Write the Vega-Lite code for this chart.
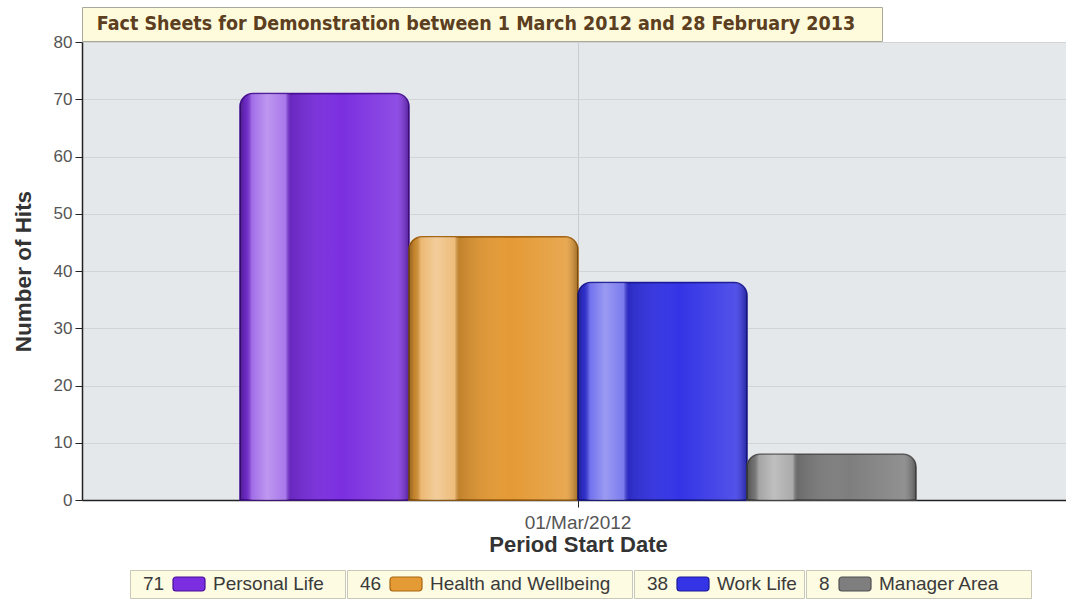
{
  "$schema": "https://vega.github.io/schema/vega-lite/v6.json",
  "padding": {"left": 12, "top": 6, "right": 0, "bottom": 0},
  "background": "white",
  "spacing": -13,
  "datasets": {
    "hits": [
      {"period": "01/Mar/2012", "series": "Personal Life", "hits": 71},
      {"period": "01/Mar/2012", "series": "Health and Wellbeing", "hits": 46},
      {"period": "01/Mar/2012", "series": "Work Life", "hits": 38},
      {"period": "01/Mar/2012", "series": "Manager Area", "hits": 8}
    ],
    "heading": [
      {"title": "Fact Sheets for Demonstration between 1 March 2012 and 28 February 2013"}
    ]
  },
  "config": {
    "font": "Liberation Sans",
    "view": {"stroke": null},
    "axis": {"labelFont": "Liberation Sans", "titleFont": "Liberation Sans"}
  },
  "vconcat": [
    {
      "width": 800,
      "height": 34,
      "data": {"name": "heading"},
      "view": {"fill": "#fdfbdc", "stroke": "#a9a89c"},
      "mark": {"type": "text", "font": "DejaVu Sans Condensed", "fontWeight": "bold", "fontSize": 19.5, "color": "#5c3e20", "dx": -6},
      "encoding": {"text": {"field": "title", "type": "nominal"}}
    },
    {
      "width": 992,
      "height": 458,
      "data": {"name": "hits"},
      "view": {"fill": "#e5e8eb", "stroke": null},
      "encoding": {
        "x": {
          "field": "period",
          "type": "nominal",
          "scale": {"paddingOuter": 0.2337, "paddingInner": 0},
          "axis": {
            "title": ["Period Start Date", ""],
            "titleFontSize": 22,
            "titleFontWeight": "bold",
            "titleColor": "#333333",
            "titlePadding": 2,
            "titleLineHeight": 15,
            "labelFontSize": 19,
            "labelColor": "#555555",
            "labelAngle": 0,
            "labelPadding": 6,
            "tickSize": 7,
            "tickColor": "#222222",
            "domainColor": "#222222",
            "domainWidth": 1.5,
            "grid": true,
            "gridColor": "#c9cdd1",
            "bandPosition": 0.5
          }
        },
        "xOffset": {
          "field": "series",
          "type": "nominal",
          "sort": null,
          "scale": {"paddingInner": 0, "paddingOuter": 0}
        },
        "y": {
          "field": "hits",
          "type": "quantitative",
          "scale": {"domain": [0, 80]},
          "axis": {
            "title": "Number of Hits",
            "titleFontSize": 22.5,
            "titleFontWeight": "bold",
            "titleColor": "#333333",
            "titlePadding": 18,
            "labelFontSize": 17,
            "labelColor": "#555555",
            "labelPadding": 3,
            "tickSize": 7,
            "tickColor": "#222222",
            "domainColor": "#222222",
            "domainWidth": 1.5,
            "values": [0, 10, 20, 30, 40, 50, 60, 70, 80],
            "grid": true,
            "gridColor": "#d2d5d8"
          }
        }
      },
      "layer": [
        {
          "mark": {"type": "bar", "cornerRadiusTopLeft": 13, "cornerRadiusTopRight": 13, "strokeWidth": 1.5},
          "encoding": {
            "fill": {
              "field": "series",
              "type": "nominal",
              "sort": null,
              "scale": {
                "domain": ["Personal Life", "Health and Wellbeing", "Work Life", "Manager Area"],
                "range": ["#7b2fe0", "#e49a35", "#3434e6", "#7e7e7e"]
              },
              "legend": null
            },
            "stroke": {
              "field": "series",
              "type": "nominal",
              "sort": null,
              "scale": {
                "domain": ["Personal Life", "Health and Wellbeing", "Work Life", "Manager Area"],
                "range": ["#4a0f9a", "#a8650f", "#1a1a9a", "#505050"]
              },
              "legend": null
            }
          }
        },
        {
          "mark": {
            "type": "bar",
            "cornerRadiusTopLeft": 13,
            "cornerRadiusTopRight": 13,
            "stroke": null,
            "fill": {
              "gradient": "linear",
              "x1": 0, "x2": 1, "y1": 0, "y2": 0,
              "stops": [
                {"offset": 0, "color": "rgba(0,0,0,0.35)"},
                {"offset": 0.035, "color": "rgba(0,0,0,0.12)"},
                {"offset": 0.07, "color": "rgba(255,255,255,0.3)"},
                {"offset": 0.16, "color": "rgba(255,255,255,0.5)"},
                {"offset": 0.27, "color": "rgba(255,255,255,0.35)"},
                {"offset": 0.3, "color": "rgba(0,0,0,0.15)"},
                {"offset": 0.6, "color": "rgba(255,255,255,0.0)"},
                {"offset": 0.93, "color": "rgba(255,255,255,0.15)"},
                {"offset": 1, "color": "rgba(0,0,0,0.3)"}
              ]
            }
          }
        }
      ]
    },
    {
      "spacing": 0,
      "hconcat": [
        {
          "width": 47,
          "height": 28,
          "data": {"values": [{}]},
          "view": {"stroke": null},
          "mark": {"type": "text"}
        },
        {
          "width": 215,
          "height": 28,
          "data": {"name": "hits"},
          "transform": [{"filter": {"field": "series", "equal": "Personal Life"}}],
          "view": {"fill": "#fdfbe2", "stroke": "#c9c7b5"},
          "layer": [
            {"mark": {"type": "text", "align": "left", "dx": -94.5, "fontSize": 19, "color": "#3a3a3a"}, "encoding": {"text": {"field": "hits", "type": "quantitative"}}},
            {"mark": {"type": "point", "shape": "M -61.5 -7 H -35.5 A 3 3 0 0 1 -32.5 -4 V 4 A 3 3 0 0 1 -35.5 7 H -61.5 A 3 3 0 0 1 -64.5 4 V -4 A 3 3 0 0 1 -61.5 -7 Z", "size": 4, "filled": true, "opacity": 1, "strokeWidth": 1.2},
             "encoding": {
               "fill": {"field": "series", "type": "nominal", "scale": {"domain": ["Personal Life", "Health and Wellbeing", "Work Life", "Manager Area"], "range": ["#7b2fe0", "#e49a35", "#3434e6", "#7e7e7e"]}, "legend": null},
               "stroke": {"field": "series", "type": "nominal", "scale": {"domain": ["Personal Life", "Health and Wellbeing", "Work Life", "Manager Area"], "range": ["#4a0f9a", "#a8650f", "#1a1a9a", "#505050"]}, "legend": null}
             }},
            {"mark": {"type": "text", "align": "left", "dx": -24.5, "fontSize": 19, "color": "#3a3a3a"}, "encoding": {"text": {"field": "series", "type": "nominal"}}}
          ]
        },
        {
          "width": 285,
          "height": 28,
          "data": {"name": "hits"},
          "transform": [{"filter": {"field": "series", "equal": "Health and Wellbeing"}}],
          "view": {"fill": "#fdfbe2", "stroke": "#c9c7b5"},
          "layer": [
            {"mark": {"type": "text", "align": "left", "dx": -129.5, "fontSize": 19, "color": "#3a3a3a"}, "encoding": {"text": {"field": "hits", "type": "quantitative"}}},
            {"mark": {"type": "point", "shape": "M -96.5 -7 H -70.5 A 3 3 0 0 1 -67.5 -4 V 4 A 3 3 0 0 1 -70.5 7 H -96.5 A 3 3 0 0 1 -99.5 4 V -4 A 3 3 0 0 1 -96.5 -7 Z", "size": 4, "filled": true, "opacity": 1, "strokeWidth": 1.2},
             "encoding": {
               "fill": {"field": "series", "type": "nominal", "scale": {"domain": ["Personal Life", "Health and Wellbeing", "Work Life", "Manager Area"], "range": ["#7b2fe0", "#e49a35", "#3434e6", "#7e7e7e"]}, "legend": null},
               "stroke": {"field": "series", "type": "nominal", "scale": {"domain": ["Personal Life", "Health and Wellbeing", "Work Life", "Manager Area"], "range": ["#4a0f9a", "#a8650f", "#1a1a9a", "#505050"]}, "legend": null}
             }},
            {"mark": {"type": "text", "align": "left", "dx": -59.5, "fontSize": 19, "color": "#3a3a3a"}, "encoding": {"text": {"field": "series", "type": "nominal"}}}
          ]
        },
        {
          "width": 170,
          "height": 28,
          "data": {"name": "hits"},
          "transform": [{"filter": {"field": "series", "equal": "Work Life"}}],
          "view": {"fill": "#fdfbe2", "stroke": "#c9c7b5"},
          "layer": [
            {"mark": {"type": "text", "align": "left", "dx": -72, "fontSize": 19, "color": "#3a3a3a"}, "encoding": {"text": {"field": "hits", "type": "quantitative"}}},
            {"mark": {"type": "point", "shape": "M -39 -7 H -13 A 3 3 0 0 1 -10 -4 V 4 A 3 3 0 0 1 -13 7 H -39 A 3 3 0 0 1 -42 4 V -4 A 3 3 0 0 1 -39 -7 Z", "size": 4, "filled": true, "opacity": 1, "strokeWidth": 1.2},
             "encoding": {
               "fill": {"field": "series", "type": "nominal", "scale": {"domain": ["Personal Life", "Health and Wellbeing", "Work Life", "Manager Area"], "range": ["#7b2fe0", "#e49a35", "#3434e6", "#7e7e7e"]}, "legend": null},
               "stroke": {"field": "series", "type": "nominal", "scale": {"domain": ["Personal Life", "Health and Wellbeing", "Work Life", "Manager Area"], "range": ["#4a0f9a", "#a8650f", "#1a1a9a", "#505050"]}, "legend": null}
             }},
            {"mark": {"type": "text", "align": "left", "dx": -2, "fontSize": 19, "color": "#3a3a3a"}, "encoding": {"text": {"field": "series", "type": "nominal"}}}
          ]
        },
        {
          "width": 225,
          "height": 28,
          "data": {"name": "hits"},
          "transform": [{"filter": {"field": "series", "equal": "Manager Area"}}],
          "view": {"fill": "#fdfbe2", "stroke": "#c9c7b5"},
          "layer": [
            {"mark": {"type": "text", "align": "left", "dx": -99.5, "fontSize": 19, "color": "#3a3a3a"}, "encoding": {"text": {"field": "hits", "type": "quantitative"}}},
            {"mark": {"type": "point", "shape": "M -76.5 -7 H -50.5 A 3 3 0 0 1 -47.5 -4 V 4 A 3 3 0 0 1 -50.5 7 H -76.5 A 3 3 0 0 1 -79.5 4 V -4 A 3 3 0 0 1 -76.5 -7 Z", "size": 4, "filled": true, "opacity": 1, "strokeWidth": 1.2},
             "encoding": {
               "fill": {"field": "series", "type": "nominal", "scale": {"domain": ["Personal Life", "Health and Wellbeing", "Work Life", "Manager Area"], "range": ["#7b2fe0", "#e49a35", "#3434e6", "#7e7e7e"]}, "legend": null},
               "stroke": {"field": "series", "type": "nominal", "scale": {"domain": ["Personal Life", "Health and Wellbeing", "Work Life", "Manager Area"], "range": ["#4a0f9a", "#a8650f", "#1a1a9a", "#505050"]}, "legend": null}
             }},
            {"mark": {"type": "text", "align": "left", "dx": -39.5, "fontSize": 19, "color": "#3a3a3a"}, "encoding": {"text": {"field": "series", "type": "nominal"}}}
          ]
        }
      ]
    }
  ]
}
